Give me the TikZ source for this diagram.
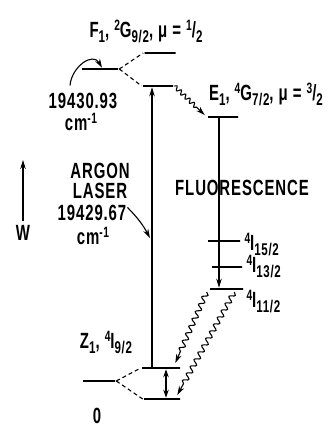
\documentclass[tikz,border=0pt]{standalone}
\usepackage{fontspec}
\setmainfont{Liberation Sans}[FakeStretch=0.68, LetterSpace=4]
\usetikzlibrary{positioning, arrows.meta, decorations.pathmorphing}

\newcommand{\lsub}[1]{\raisebox{-5pt}{\fontsize{17}{17}\selectfont #1}}
\newcommand{\lsup}[1]{\raisebox{7pt}{\fontsize{15}{15}\selectfont #1}}

\begin{document}
\begin{tikzpicture}[
        x=1pt, y=-1pt,
        every node/.style={
            font=\fontsize{22}{24}\selectfont\bfseries,
            align=center
        },
        txt/.style={
            inner sep=1pt,
            anchor=base
        },
        enlevel/.style={
            draw,
            line width=2.6pt,
            minimum height=0pt,
            inner sep=0pt
        },
        arrow/.style={
            -{Stealth[length=9pt,width=5.5pt]},
            line width=1.1pt
        },
        dblarrow/.style={
            {Stealth[length=8pt,width=5.5pt]}-{Stealth[length=8pt,width=5.5pt]},
            line width=1.1pt
        },
        wavyarrow/.style={
            -{Stealth[length=9pt,width=5.5pt]},
            line width=1.1pt,
            decorate,
            decoration={snake, amplitude=2.6pt, segment length=8pt,
                post length=9pt}
        },
        splitline/.style={
            line width=1.1pt,
            dash pattern=on 4pt off 3pt
        }
    ]

    \useasboundingbox (0,0) rectangle (334,434);

    % Niveaux d'energie

    \node[enlevel, minimum width=36pt] (f1) at (100,69) {};
    \node[enlevel, minimum width=31pt] (f1up) at (160,53) {};
    \node[enlevel, minimum width=30pt] (f1low) at (158,86) {};

    \node[enlevel, minimum width=30pt] (e1) at (223,117) {};

    \node[enlevel, minimum width=32pt] (i15) at (224,241) {};
    \node[enlevel, minimum width=30pt] (i13) at (227,267) {};
    \node[enlevel, minimum width=33pt] (i11) at (226.5,289) {};

    \node[enlevel, minimum width=32pt] (z1) at (99,381) {};
    \node[enlevel, minimum width=38pt] (z1up) at (161,368) {};
    \node[enlevel, minimum width=36pt] (z1low) at (162,399) {};

    % Textes

    \node[txt] (f1name) at (146,37)
    {F\lsub{1}, \lsup{2}G\lsub{9/2}, μ = \lsup{1}/\lsub{2}};

    \node[txt] (e1name) at (266,100)
    {E\lsub{1}, \lsup{4}G\lsub{7/2}, μ = \lsup{3}/\lsub{2}};

    \node[txt] (f1num) at (83,108) {19430.93};
    \node[txt] (f1unit) at ([xshift=-2pt, yshift=-22pt]f1num.base) {cm\lsup{-1}};

    \node[txt] (argon) at (100,178) {ARGON};
    \node[txt] (laser) at ([yshift=-20pt]argon.base) {LASER};
    \node[txt] (laserfreq) at ([xshift=-8pt, yshift=-22pt]laser.base) {19429.67};
    \node[txt] (laserunit) at ([xshift=1pt, yshift=-24pt]laserfreq.base) {cm\lsup{-1}};

    \node[txt] (fluor) at (242,195) {FLUORESCENCE};

    \node[txt, anchor=base west] (i15name) at ([xshift=2pt, yshift=-9pt]i15.east)
    {\lsup{4}I\lsub{15/2}};
    \node[txt, anchor=base west] (i13name) at ([xshift=2pt, yshift=-5pt]i13.east)
    {\lsup{4}I\lsub{13/2}};
    \node[txt, anchor=base west] (i11name) at ([xshift=1pt, yshift=-18pt]i11.east)
    {\lsup{4}I\lsub{11/2}};

    \node[txt] (zname) at (106,348)
    {Z\lsub{1}, \lsup{4}I\lsub{9/2}};
    \node[txt] (zero) at (97,423) {0};
    \node[txt] (wlab) at (23,240) {W};

    \coordinate (wtop) at (23,160);
    \coordinate (lasertip) at (150,238);

    % Eclatements

    \draw[splitline] (f1.east) -- (f1up.west);
    \draw[splitline] (f1.east) -- (f1low.west);
    \draw[splitline] (z1.east) -- (z1up.west);
    \draw[splitline] (z1.east) -- (z1low.west);

    % Transitions

    \draw[arrow] ([xshift=-9pt]z1up.center) -- ([xshift=-9pt]z1up.center |- f1low.south);
    \draw[arrow] ([xshift=-4pt]e1.center) -- ([xshift=-4pt]e1.center |- i11.north);
    \draw[dblarrow] ([xshift=5pt]z1up.south) -- ([xshift=5pt]z1up.south |- z1low.north);

    \draw[wavyarrow, decoration={amplitude=2pt, segment length=6pt}]
    (f1low.east) -- ([xshift=-2pt, yshift=2pt]e1.west);
    \draw[wavyarrow] ([xshift=-2pt, yshift=-3pt]i11.west) -- ([xshift=-6pt, yshift=5pt]z1up.east);
    \draw[wavyarrow] ([xshift=-10pt, yshift=-3pt]i11.east) -- ([xshift=-4pt, yshift=4pt]z1low.east);

    % Fleches des etiquettes

    \draw[arrow, shorten <=3pt] (wlab) -- (wtop);
    \draw[arrow] ([xshift=-13pt, yshift=6pt]f1num.north) to[out=85, in=120, looseness=1.3] ([xshift=2pt]f1.north);
    \draw[arrow] ([yshift=5pt]laserfreq.east) to[bend left=8] (lasertip);

\end{tikzpicture}
\end{document}
